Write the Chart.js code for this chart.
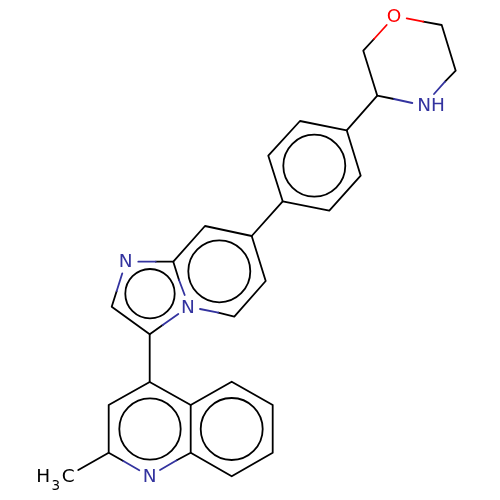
<!DOCTYPE html>
<html>
<head>
<meta charset="utf-8">
<title>Molecule</title>
<script src="https://cdn.jsdelivr.net/npm/chart.js@4/dist/chart.umd.min.js"></script>
<style>
    html, body { margin: 0; padding: 0; background: #fff; }
    canvas { display: block; }
</style>
</head>
<body>
<canvas id="myChart" width="500" height="500"></canvas>
<script>
    // bond paths, each one a list of [x, y]
    const blackBonds = [
        [[423.3, 21.7], [441.7, 25], [455.7, 70.7], [445, 81.7]],
        [[374, 39], [363.3, 50.7], [377.3, 95.7], [394, 99]],
        [[377.3, 95.7], [346.7, 130.3]],
        [[346.7, 130.3], [300, 121], [268.3, 155.7], [282.7, 201.3], [329.3, 210.7], [360.7, 175.7], [346.7, 130.3]],
        [[282.7, 201.3], [251.7, 236]],
        [[251.7, 236], [205, 226], [173.3, 261.7], [155.7, 261.7]],
        [[173.3, 261.7], [179, 280]],
        [[251.7, 236], [265.7, 281], [234.3, 316.7], [218.3, 312.7]],
        [[116.7, 291], [111.7, 306.7], [149.7, 334.3], [162.7, 325]],
        [[149.7, 334.3], [149.7, 382]],
        [[123.3, 461], [108.7, 452.7], [108.7, 405], [149.7, 382], [190.7, 405], [190.7, 452.7], [176.7, 460.3]],
        [[190.7, 405], [231.7, 381.7], [272.7, 405], [272.7, 452.7], [231.7, 476.3], [190.7, 452.7]],
        [[108.7, 452.7], [78.3, 470]]
    ];
    const blueBonds = [
        [[445, 81.7], [434, 94]],
        [[394, 99], [412.3, 103]],
        [[155.7, 261.7], [138.3, 261.7]],
        [[122.3, 273.3], [116.7, 291]],
        [[162.7, 325], [178.3, 314]],
        [[179, 280], [184.7, 295]],
        [[200, 309], [218.3, 312.7]],
        [[123.3, 461], [139.3, 470.3]],
        [[160, 470], [176.7, 460.3]]
    ];
    const redBonds = [
        [[406.7, 18.3], [423.3, 21.7]],
        [[374, 39], [386.7, 25]]
    ];

    // aromatic rings
    const ringX = [314.3, 219.3, 150, 150, 231.7];
    const ringY = [165.7, 271.3, 293.7, 429, 429];
    const ringRadius = [31, 31, 24.7, 30.7, 31];

    // atom labels
    const labelText = ['O', 'NH', 'N', 'N', 'N', 'H', '3', 'C'];
    const labelX = [394, 431, 125.7, 188, 149.7, 43.3, 55.7, 68.3];
    const labelY = [16.7, 106, 262.3, 307.7, 477.3, 477, 486, 477];
    const labelColor = ['#ff0000', '#33339f', '#33339f', '#33339f', '#33339f', '#000000', '#000000', '#000000'];
    const labelSize = [18.5, 18.5, 18.5, 18.5, 18.5, 18.5, 13.5, 18.5];

    function bondDatasets(paths, color) {
        return paths.map(path => ({
            type: 'line',
            data: path.map(p => ({ x: p[0], y: p[1] })),
            borderColor: color,
            borderWidth: 1.8,
            borderCapStyle: 'round',
            borderJoinStyle: 'round',
            pointRadius: 0,
            fill: false,
            tension: 0
        }));
    }

    const atomLabels = {
        id: 'atomLabels',
        afterDraw(chart) {
            const ctx = chart.ctx;
            ctx.save();
            ctx.textAlign = 'center';
            ctx.textBaseline = 'middle';
            labelText.forEach((text, i) => {
                ctx.font = labelSize[i] + 'px "DejaVu Sans"';
                ctx.fillStyle = labelColor[i];
                ctx.fillText(text, chart.scales.x.getPixelForValue(labelX[i]), chart.scales.y.getPixelForValue(labelY[i]));
            });
            ctx.restore();
        }
    };

    const ctx = document.getElementById('myChart').getContext('2d');
    window.myChart = new Chart(ctx, {
        type: 'scatter',
        data: {
            datasets: [
                ...bondDatasets(redBonds, '#ff0000'),
                ...bondDatasets(blueBonds, '#33339f'),
                ...bondDatasets(blackBonds, '#000000'),
                {
                    type: 'scatter',
                    data: ringX.map((x, i) => ({ x: x, y: ringY[i] })),
                    pointStyle: 'circle',
                    pointRadius: ringRadius,
                    pointBackgroundColor: 'rgba(0,0,0,0)',
                    pointBorderColor: '#000000',
                    pointBorderWidth: 1.8
                }
            ]
        },
        options: {
            responsive: false,
            animation: false,
            events: [],
            layout: { padding: 0, autoPadding: false },
            plugins: { legend: { display: false }, tooltip: { enabled: false } },
            scales: {
                x: { type: 'linear', min: 0, max: 500, display: false },
                y: { type: 'linear', min: 0, max: 500, reverse: true, display: false }
            }
        },
        plugins: [atomLabels]
    });
</script>
</body>
</html>
